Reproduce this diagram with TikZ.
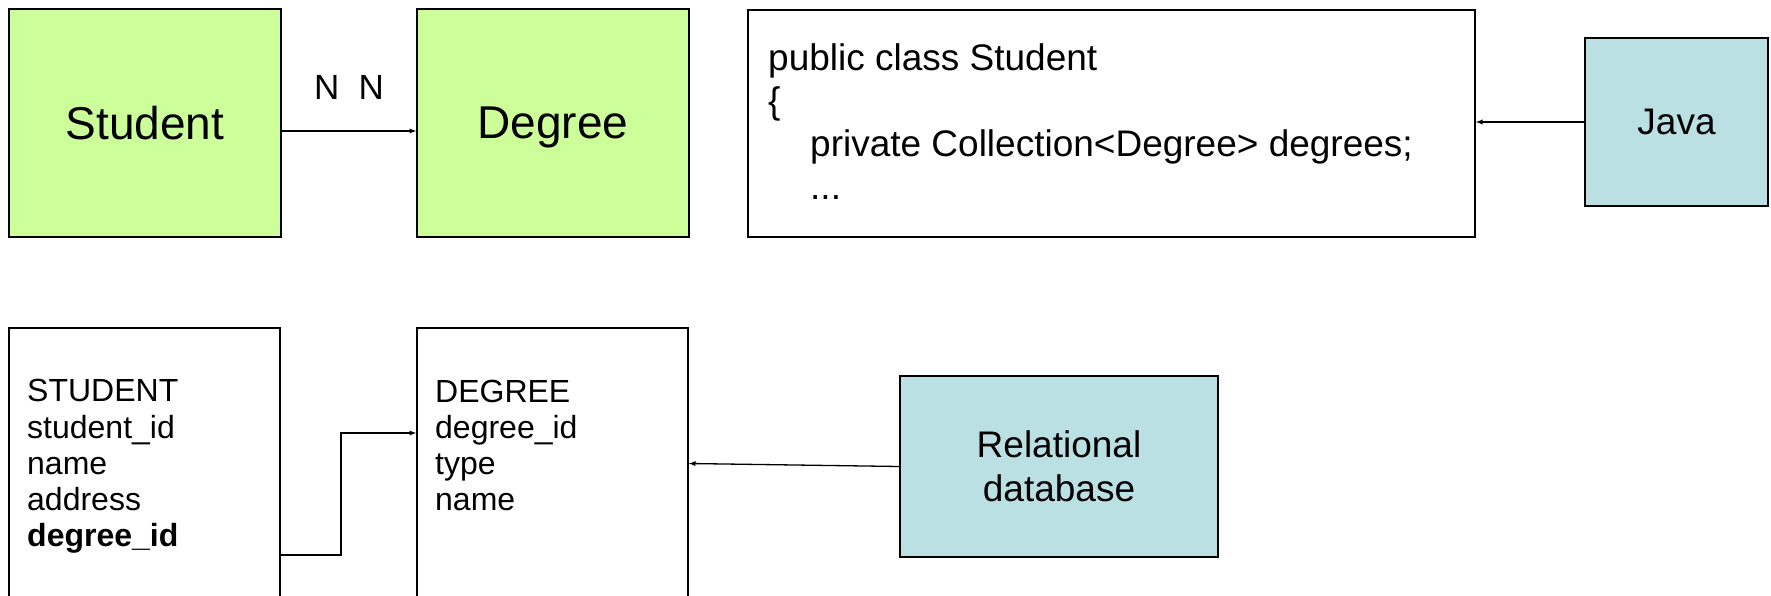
\documentclass[tikz,border=0pt]{standalone}
\usepackage{fontspec}
\setmainfont{Liberation Sans}
\usetikzlibrary{calc}
\definecolor{entgreen}{HTML}{CCFF99}
\definecolor{mapblue}{HTML}{BBE0E3}
\tikzset{
  entity/.style={draw, line width=1.6pt, fill=entgreen, minimum width=272pt, minimum height=228pt, text depth=0pt, font=\fontsize{46}{52}\selectfont},
  plainbox/.style={draw, line width=1.6pt, fill=white},
  side/.style={draw, line width=1.6pt, fill=mapblue, font=\fontsize{37}{44}\selectfont, align=center},
  tabtext/.style={anchor=base west, inner sep=0pt, align=left, font=\fontsize{32}{36.3}\selectfont},
  link/.style={line width=1.3pt, -latex}
}
\begin{document}
\begin{tikzpicture}[x=1pt,y=1pt]
\useasboundingbox (0,0) rectangle (1771,596);

% object model
\node[entity] (student) at (145,473) {Student};
\node[entity] (degree) at (553,473) {Degree};
\draw[link] ([yshift=-8pt]student.east) -- ([yshift=-8pt]degree.west);
\node[font=\fontsize{35}{40}\selectfont] (mult) at (349,509) {N\ \ N};

\node[plainbox, minimum width=727pt, minimum height=227pt] (code) at (1111.5,472.5) {};
% base anchor sits on the last line
\node[tabtext, font=\fontsize{37}{43}\selectfont] (codetext) at (768,396)
  {public class Student\\ \{\\ \hspace*{42pt}private Collection<Degree> degrees;\\ \hspace*{42pt}...};
\node[side, minimum width=183pt, minimum height=168pt] (java) at (1676.5,474) {Java};
\draw[link] (java.west) -- (java.west -| code.east);

% tables
\node[plainbox, minimum width=271pt, minimum height=280pt] (stab) at (144.5,128) {};
\node[tabtext] (stabtext) at (27,49)
  {STUDENT\\ student\_id\\ name\\ address\\ \textbf{degree\_id}};
\node[plainbox, minimum width=271pt, minimum height=280pt] (dtab) at (552.5,128) {};
\node[tabtext] (dtabtext) at (435,85)
  {DEGREE\\ degree\_id\\ type\\ name};
\coordinate (fkout) at (stab.east |- 0,41);
\coordinate (fkin) at (dtab.west |- 0,163);
\draw[link] (fkout) -- (341,41) -- (341,163) -- (fkin);

\node[side, minimum width=318pt, minimum height=181pt] (rdb) at (1059,129.5) {Relational\\ database};
\draw[link] (rdb.west) -- ([yshift=3pt]rdb.west -| dtab.east);
\end{tikzpicture}
\end{document}
